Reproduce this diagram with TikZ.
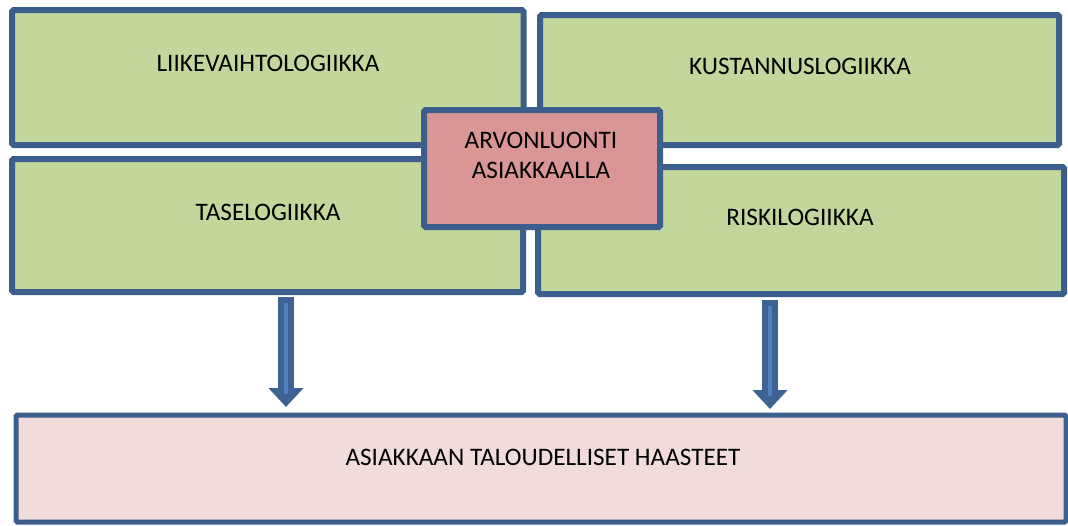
\documentclass[tikz,border=0pt]{standalone}
\usepackage{fontspec}
\setmainfont{Carlito}
\usetikzlibrary{arrows.meta,calc}
\definecolor{bordblue}{HTML}{3B5E8C}
\definecolor{greenfill}{HTML}{C3D69B}
\definecolor{pinkfill}{HTML}{D99694}
\definecolor{lightpink}{HTML}{F2DCDB}
\definecolor{arrdark}{HTML}{3D6293}
\definecolor{arrlight}{HTML}{4F81BD}
\tikzset{
  box/.style={draw=bordblue, line width=6pt, inner sep=0pt, rounded corners=1.5pt},
  greenbox/.style={box, fill=greenfill},
  lbl/.style={inner sep=0pt, font=\fontsize{25.2}{30}\selectfont, text=black, align=center},
  bigarrow/.style={draw=arrdark, line width=16pt, -{Triangle[width=34pt,length=19pt]},
    postaction={draw=arrlight, line width=4pt, -, shorten <=6pt, shorten >=13pt}}
}
\begin{document}
\begin{tikzpicture}[x=1pt,y=-1pt]
\useasboundingbox (0,0) rectangle (1068,525);
\node[greenbox, minimum width=511.5pt, minimum height=135pt] (b1) at (267.75,77.5) {};
\node[greenbox, minimum width=511pt, minimum height=133pt] (b2) at (267.5,225.5) {};
\node[greenbox, minimum width=519pt, minimum height=130pt] (b3) at (799.5,80) {};
\node[greenbox, minimum width=526pt, minimum height=127pt] (b4) at (801,230.5) {};
\node[box, fill=pinkfill, minimum width=236pt, minimum height=117pt] (c) at (542,168.5) {};
\node[box, line width=5pt, fill=lightpink, minimum width=1050pt, minimum height=107pt] (bot) at (541,468.5) {};

\node[lbl] (t1) at (268,63) {LIIKEVAIHTOLOGIIKKA};
\node[lbl] (t2) at (268,212) {TASELOGIIKKA};
\node[lbl] (t3) at (800,66) {KUSTANNUSLOGIIKKA};
\node[lbl] (t4) at (800,217) {RISKILOGIIKKA};
\node[lbl] (tc) at (541,155) {ARVONLUONTI\\ASIAKKAALLA};
\node[lbl] (tb) at (543,457) {ASIAKKAAN TALOUDELLISET HAASTEET};

\draw[bigarrow] ([xshift=18.5pt,yshift=-2pt]b2.south) -- ([xshift=-255pt,yshift=5.5pt]bot.north);
\draw[bigarrow] ([xshift=-31pt,yshift=-3pt]b4.south) -- ([xshift=229pt,yshift=3.5pt]bot.north);
\end{tikzpicture}
\end{document}
